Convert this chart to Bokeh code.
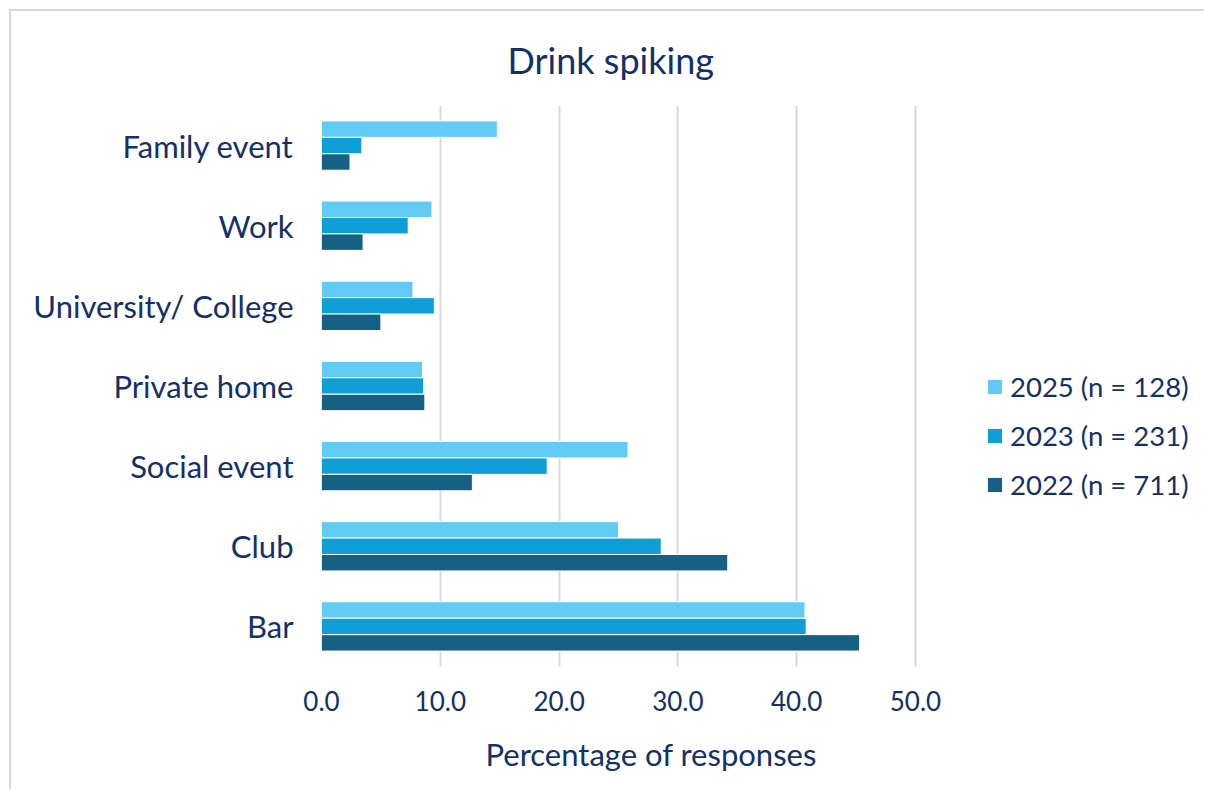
from bokeh.plotting import figure
from bokeh.models import (FactorRange, Range1d, ColumnDataSource, Legend, LegendItem,
                          FixedTicker, PrintfTickFormatter, Title)
from bokeh.transform import dodge
from bokeh.embed import file_html
from bokeh.resources import INLINE

# Categories listed bottom to top
categories = ["Bar", "Club", "Social event", "Private home",
              "University/ College", "Work", "Family event"]

# Percentage of responses per survey year
pct_2025 = [40.7, 25.0, 25.8, 8.5, 7.7, 9.3, 14.8]
pct_2023 = [40.8, 28.6, 19.0, 8.6, 9.5, 7.3, 3.4]
pct_2022 = [45.3, 34.2, 12.7, 8.7, 5.0, 3.5, 2.4]

series_labels = ["2025 (n = 128)", "2023 (n = 231)", "2022 (n = 711)"]
x_ticks = [0, 10, 20, 30, 40, 50]

NAVY = "#13306a"
COLORS = ["#62cbf3", "#109ed6", "#166083"]
FONT = "Lato"

src = ColumnDataSource(dict(cat=categories, y2025=pct_2025, y2023=pct_2023, y2022=pct_2022))

# canvas sits 11px in from the page corner, behind a light top/left border;
# the plot area runs to the right edge so the legend can sit inside it
p = figure(width=1195, height=780, output_backend="svg", toolbar_location=None,
           y_range=FactorRange(*categories, range_padding=0.0),
           x_range=Range1d(0, 74.5),
           min_border_left=310, min_border_right=0, min_border_top=94,
           min_border_bottom=123)
p.margin = (9, 0, 0, 9)
p.styles = {"border-top": "2px solid #d9d9d9", "border-left": "2px solid #d9d9d9"}

p.title.text = "Drink spiking"
p.title.text_font = FONT
p.title.text_font_size = "36px"
p.title.text_font_style = "normal"
p.title.text_color = NAVY
p.title.align = "left"
p.title.offset = 186
p.title.standoff = 48

bar_h = 0.205
offsets = [bar_h, 0.0, -bar_h]
fields = ["y2025", "y2023", "y2022"]
renderers = []
for f, off, col in zip(fields, offsets, COLORS):
    r = p.hbar(y=dodge("cat", off, range=p.y_range), right=f, left=0, height=bar_h,
               source=src, fill_color=col, line_color="white", line_width=1)
    renderers.append(r)

# Axes
p.xaxis.ticker = FixedTicker(ticks=x_ticks)
p.xaxis.formatter = PrintfTickFormatter(format="%.1f")
p.xaxis.axis_line_color = None
p.xaxis.major_tick_line_color = None
p.xaxis.minor_tick_line_color = None
p.xaxis.major_label_text_font = FONT
p.xaxis.major_label_text_font_size = "26px"
p.xaxis.major_label_text_color = NAVY
p.xaxis.major_label_standoff = 18

p.yaxis.axis_line_color = None
p.yaxis.major_tick_line_color = None
p.yaxis.minor_tick_line_color = None
p.yaxis.major_label_text_font = FONT
p.yaxis.major_label_text_font_size = "31px"
p.yaxis.major_label_text_color = NAVY
p.yaxis.major_label_standoff = 22

p.xgrid.grid_line_color = "#d9d9d9"
p.xgrid.grid_line_width = 2
p.ygrid.grid_line_color = None
p.outline_line_color = None

# x axis title, placed under the tick labels
p.add_layout(Title(text="Percentage of responses", align="left", offset=164,
                   text_font=FONT, text_font_size="31px", text_font_style="normal",
                   text_color=NAVY, standoff=38), "below")

# Legend
legend = Legend(items=[LegendItem(label=lab, renderers=[r]) for lab, r in zip(series_labels, renderers)],
                location=(664, 165), orientation="vertical",
                glyph_width=19, glyph_height=19, label_height=19, spacing=16,
                label_standoff=6, padding=0, margin=0,
                border_line_color=None, background_fill_alpha=0)
legend.label_text_font = FONT
legend.label_text_font_size = "27.5px"
legend.label_text_color = NAVY
p.add_layout(legend, "center")

open("out.html", "w").write(file_html(p, INLINE))
